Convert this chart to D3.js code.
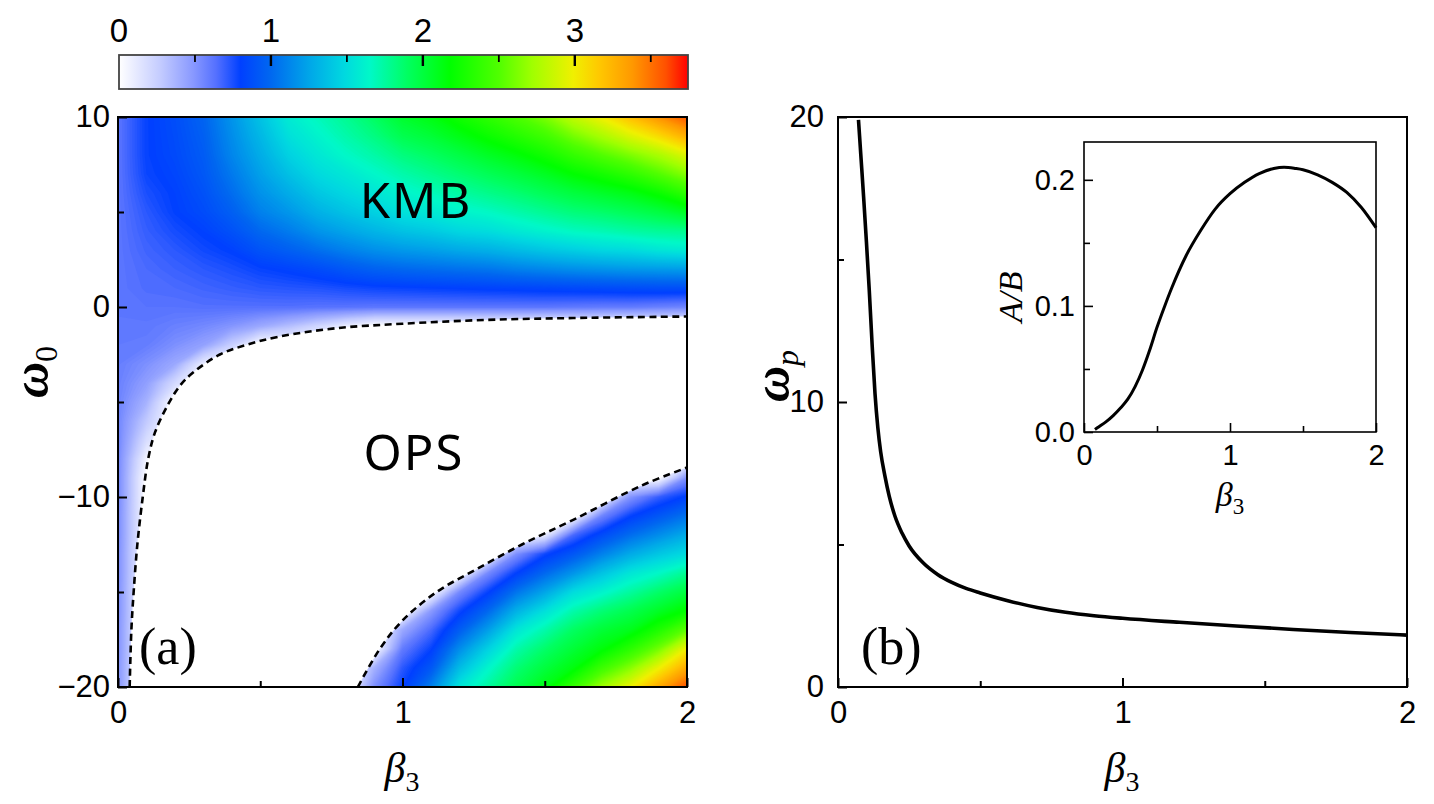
<!DOCTYPE html>
<html>
<head>
<meta charset="utf-8">
<script src="https://cdn.jsdelivr.net/npm/d3@7"></script>
<style>
  body { margin: 0; background: #fff; }
  svg text { font-family: "Liberation Sans", Arial, sans-serif; fill: #000; }
</style>
</head>
<body>
<svg id="chart" width="1434" height="804"></svg>
<script>
// ---- values ----

// panel (a): colour-coded value on a beta3 x omega0 grid (rows from omega0 = 10 down to -20)
var betaGrid = [0, 0.1, 0.2, 0.3, 0.4, 0.5, 0.6, 0.7, 0.8, 0.9, 1.0, 1.1, 1.2, 1.3, 1.4, 1.5, 1.6, 1.7, 1.8, 1.9, 2.0];
var omegaGrid = [10, 9, 8, 7, 6, 5, 4, 3, 2, 1, 0, -1, -2, -3, -4, -5, -6, -7, -8, -9, -10,
                 -11, -12, -13, -14, -15, -16, -17, -18, -19, -20];
var heatRows = [
  [0.62,0.79,0.87,0.98,1.18,1.38,1.58,1.68,1.78,1.90,2.05,2.13,2.25,2.36,2.48,2.62,2.83,3.00,3.20,3.40,3.58],
  [0.62,0.79,0.86,0.96,1.15,1.33,1.52,1.62,1.72,1.82,1.95,2.02,2.12,2.22,2.32,2.43,2.60,2.75,2.92,3.08,3.28],
  [0.62,0.79,0.85,0.94,1.12,1.28,1.45,1.56,1.65,1.73,1.83,1.90,1.98,2.07,2.15,2.25,2.38,2.50,2.62,2.75,2.93],
  [0.62,0.78,0.83,0.92,1.07,1.23,1.37,1.49,1.56,1.64,1.72,1.79,1.86,1.93,2.00,2.08,2.18,2.26,2.36,2.50,2.65],
  [0.62,0.75,0.81,0.89,1.02,1.17,1.28,1.40,1.48,1.55,1.62,1.68,1.74,1.80,1.86,1.93,2.00,2.06,2.12,2.22,2.37],
  [0.62,0.72,0.80,0.86,0.96,1.10,1.19,1.30,1.38,1.45,1.53,1.57,1.62,1.66,1.72,1.78,1.84,1.88,1.93,1.99,2.08],
  [0.62,0.70,0.76,0.81,0.89,1.00,1.08,1.18,1.25,1.32,1.38,1.42,1.48,1.51,1.57,1.62,1.67,1.70,1.74,1.77,1.79],
  [0.62,0.68,0.72,0.77,0.81,0.90,0.96,1.03,1.10,1.16,1.20,1.23,1.27,1.30,1.35,1.40,1.44,1.48,1.50,1.55,1.58],
  [0.62,0.66,0.69,0.72,0.75,0.79,0.82,0.86,0.92,0.97,1.00,1.02,1.04,1.06,1.10,1.13,1.16,1.18,1.20,1.21,1.22],
  [0.62,0.65,0.66,0.68,0.70,0.72,0.73,0.74,0.76,0.78,0.79,0.80,0.81,0.82,0.83,0.84,0.85,0.86,0.87,0.88,0.88],
  [0.62,0.63,0.63,0.64,0.64,0.64,0.64,0.63,0.63,0.62,0.62,0.62,0.62,0.62,0.62,0.62,0.61,0.60,0.60,0.58,0.56],
  [0.61,0.61,0.58,0.55,0.50,0.42,0.33,0.22,0.10,0,0,0,0,0,0,0,0,0,0,0,0],
  [0.60,0.59,0.52,0.45,0.25,0,0,0,0,0,0,0,0,0,0,0,0,0,0,0,0],
  [0.59,0.52,0.42,0.10,0,0,0,0,0,0,0,0,0,0,0,0,0,0,0,0,0],
  [0.58,0.46,0.20,0,0,0,0,0,0,0,0,0,0,0,0,0,0,0,0,0,0],
  [0.57,0.38,0,0,0,0,0,0,0,0,0,0,0,0,0,0,0,0,0,0,0],
  [0.56,0.28,0,0,0,0,0,0,0,0,0,0,0,0,0,0,0,0,0,0,0],
  [0.56,0.18,0,0,0,0,0,0,0,0,0,0,0,0,0,0,0,0,0,0,0],
  [0.55,0.06,0,0,0,0,0,0,0,0,0,0,0,0,0,0,0,0,0,0,0],
  [0.55,0,0,0,0,0,0,0,0,0,0,0,0,0,0,0,0,0,0,0,0.52],
  [0.55,0,0,0,0,0,0,0,0,0,0,0,0,0,0,0,0,0,0.50,0.70,0.82],
  [0.54,0,0,0,0,0,0,0,0,0,0,0,0,0,0,0,0,0.56,0.79,0.92,1.05],
  [0.54,0,0,0,0,0,0,0,0,0,0,0,0,0,0,0.10,0.66,0.86,1.02,1.15,1.28],
  [0.53,0,0,0,0,0,0,0,0,0,0,0,0,0,0.52,0.77,0.92,1.10,1.27,1.40,1.50],
  [0.53,0,0,0,0,0,0,0,0,0,0,0,0,0.54,0.80,1.00,1.18,1.38,1.55,1.65,1.78],
  [0.52,0,0,0,0,0,0,0,0,0,0,0,0.54,0.79,1.05,1.25,1.50,1.62,1.75,1.88,2.00],
  [0.52,0,0,0,0,0,0,0,0,0,0,0.48,0.77,1.00,1.30,1.52,1.72,1.85,1.95,2.07,2.20],
  [0.51,0,0,0,0,0,0,0,0,0,0.42,0.66,0.95,1.22,1.55,1.72,1.90,2.02,2.10,2.30,2.55],
  [0.51,0,0,0,0,0,0,0,0,0,0.60,0.79,1.15,1.45,1.72,1.88,2.02,2.15,2.35,2.60,3.00],
  [0.50,0,0,0,0,0,0,0,0,0.38,0.72,0.92,1.35,1.63,1.85,2.00,2.14,2.42,2.65,2.98,3.30],
  [0.50,0,0,0,0,0,0,0,0,0.52,0.79,1.10,1.55,1.75,1.95,2.12,2.40,2.72,2.98,3.30,3.60]
];

// dashed borders of the OPS region
var upperBeta  = [0.041, 0.047, 0.055, 0.068, 0.087, 0.106, 0.13, 0.177, 0.22, 0.264, 0.358, 0.45, 0.566, 0.765, 1.0, 1.294, 1.6, 2.0];
var upperOmega = [-20, -17, -15, -12.5, -10, -8, -6.6, -5.1, -4.1, -3.45, -2.5, -2.0, -1.56, -1.12, -0.88, -0.68, -0.58, -0.5];
var lowerBeta  = [0.843, 0.92, 1.0, 1.12, 1.26, 1.42, 1.6, 1.84, 2.0];
var lowerOmega = [-20, -18, -16.5, -15, -13.8, -12.5, -11.2, -9.4, -8.45];

// colour bar
var barMax = 3.745;
var barTicks = [0, 1, 2, 3];
var barMinor = [0.5, 1.5, 2.5, 3.5];
var cmapStops  = [0, 0.27, 0.49, 0.64, 0.8, 1.0, 1.26, 1.48, 1.65, 1.9, 2.18, 2.5, 2.72, 2.99, 3.16, 3.38, 3.6, 3.745];
var cmapColors = ["#ffffff", "#c4ccff", "#8898ff", "#5470ff", "#0040ff", "#0068f0", "#00a8e8", "#00d8e0",
                  "#00f8c8", "#00ff60", "#00ff00", "#50ff00", "#a0ff00", "#f0f000", "#ffc800", "#ff9800",
                  "#ff5000", "#ff0000"];

// panel (b): omega_p against beta3
var betaP  = [0.072, 0.08, 0.09, 0.1, 0.11, 0.12, 0.13, 0.14, 0.15, 0.165, 0.18, 0.2, 0.225, 0.25, 0.3,
              0.35, 0.4, 0.45, 0.5, 0.6, 0.7, 0.8, 0.9, 1.0, 1.2, 1.4, 1.6, 1.8, 2.0];
var omegaP = [19.9, 18.7, 17.2, 15.6, 13.9, 12.0, 10.3, 9.1, 8.25, 7.4, 6.7, 6.0, 5.4, 4.95, 4.35,
              3.95, 3.67, 3.46, 3.3, 3.02, 2.79, 2.62, 2.5, 2.41, 2.27, 2.14, 2.02, 1.91, 1.82];

// inset: A/B against beta3
var betaI  = [0.075, 0.1, 0.15, 0.2, 0.25, 0.3, 0.35, 0.4, 0.45, 0.5, 0.55, 0.6, 0.7, 0.8, 0.9, 1.0,
              1.1, 1.2, 1.3, 1.37, 1.45, 1.5, 1.6, 1.7, 1.8, 1.9, 2.0];
var ratioI = [0.002, 0.004, 0.008, 0.013, 0.019, 0.026, 0.036, 0.049, 0.065, 0.083, 0.099, 0.114, 0.14, 0.16,
              0.177, 0.189, 0.198, 0.205, 0.209, 0.210, 0.209, 0.208, 0.204, 0.198, 0.19, 0.178, 0.162];

// ---- drawing ----
var svg = d3.select('#chart');
var defs = svg.append('defs');
var serif = '"Liberation Serif", "Times New Roman", serif';

function styleAxis(g, size, width) {
  g.attr('font-size', null).attr('font-family', null);
  g.selectAll('text').style('font-size', size + 'px');
  g.selectAll('line').attr('stroke', '#000').attr('stroke-width', width);
  g.select('.domain').remove();
}

function frame(x0, y0, x1, y1, w) {
  svg.append('rect').attr('x', x0).attr('y', y0).attr('width', x1 - x0).attr('height', y1 - y0)
    .attr('fill', 'none').attr('stroke', '#000').attr('stroke-width', w);
}

// panel (a)
var xA = d3.scaleLinear().domain([0, 2]).range([118, 687]);
var yA = d3.scaleLinear().domain([-20, 10]).range([687, 117]);
var color = d3.scaleLinear().domain(cmapStops).range(cmapColors).clamp(true);

defs.append('clipPath').attr('id', 'clipA').append('rect')
  .attr('x', xA(0)).attr('y', yA(10)).attr('width', xA(2) - xA(0)).attr('height', yA(-20) - yA(10));

var gA = svg.append('g').attr('clip-path', 'url(#clipA)');
gA.append('rect').attr('x', xA(0)).attr('y', yA(10))
  .attr('width', xA(2) - xA(0)).attr('height', yA(-20) - yA(10)).attr('fill', '#fff');

var nx = betaGrid.length, ny = omegaGrid.length;
var values = [].concat.apply([], heatRows);
var step = 0.015;
var levels = d3.range(step, barMax, step);
var bands = d3.contours().size([nx, ny]).thresholds(levels)(values);
var dB = betaGrid[1] - betaGrid[0], dW = omegaGrid[0] - omegaGrid[1];
var gridProj = d3.geoTransform({
  point: function(px, py) {
    this.stream.point(xA(betaGrid[0] + (px - 0.5) * dB), yA(omegaGrid[0] - (py - 0.5) * dW));
  }
});
var gridPath = d3.geoPath(gridProj);
gA.selectAll('path.band').data(bands).enter().append('path')
  .attr('class', 'band')
  .attr('d', gridPath)
  .attr('fill', function(d) { return color(d.value + step / 2); })
  .attr('stroke', 'none');

var border = d3.line().curve(d3.curveCatmullRom.alpha(0.5))
  .x(function(d) { return xA(d[0]); }).y(function(d) { return yA(d[1]); });
var upper = upperBeta.map(function(b, i) { return [b, upperOmega[i]]; });
var lower = lowerBeta.map(function(b, i) { return [b, lowerOmega[i]]; });
var opsArea = border(upper) + 'L' + border(lower.slice().reverse()).slice(1) + 'Z';
gA.append('path').attr('d', opsArea).attr('fill', '#fff');
[upper, lower].forEach(function(pts) {
  gA.append('path').attr('d', border(pts)).attr('fill', 'none')
    .attr('stroke', '#000').attr('stroke-width', 2.6).attr('stroke-dasharray', '7,4.5');
});

var axA = svg.append('g').attr('transform', 'translate(0,' + yA(-20) + ')')
  .call(d3.axisBottom(xA).tickValues([0, 1, 2]).tickFormat(d3.format('d'))
    .tickSizeInner(-9).tickSizeOuter(0).tickPadding(14));
styleAxis(axA, 31, 2);
var axAm = svg.append('g').attr('transform', 'translate(0,' + yA(-20) + ')')
  .call(d3.axisBottom(xA).tickValues([0.5, 1.5]).tickFormat('').tickSizeInner(-6).tickSizeOuter(0));
styleAxis(axAm, 31, 2);
var ayA = svg.append('g').attr('transform', 'translate(' + xA(0) + ',0)')
  .call(d3.axisLeft(yA).tickValues([-20, -10, 0, 10]).tickFormat(d3.format('d'))
    .tickSizeInner(-9).tickSizeOuter(0).tickPadding(8));
styleAxis(ayA, 31, 2);
var ayAm = svg.append('g').attr('transform', 'translate(' + xA(0) + ',0)')
  .call(d3.axisLeft(yA).tickValues([-15, -5, 5]).tickFormat('').tickSizeInner(-6).tickSizeOuter(0));
styleAxis(ayAm, 31, 2);
frame(xA(0), yA(10), xA(2), yA(-20), 2);

svg.append('text').attr('x', 416).attr('y', 218).attr('text-anchor', 'middle')
  .style('font-family', '"Noto Sans", "Open Sans", sans-serif').style('font-size', '49px')
  .style('letter-spacing', '2px').text('KMB');
svg.append('text').attr('x', 414).attr('y', 470).attr('text-anchor', 'middle')
  .style('font-family', '"Noto Sans", "Open Sans", sans-serif').style('font-size', '49px')
  .style('letter-spacing', '2px').text('OPS');
svg.append('text').attr('x', 139).attr('y', 664)
  .style('font-family', serif).style('font-size', '52px').text('(a)');

// colour bar
var xC = d3.scaleLinear().domain([0, barMax]).range([119, 688]);
var grad = defs.append('linearGradient').attr('id', 'barGrad')
  .attr('x1', '0%').attr('x2', '100%').attr('y1', '0%').attr('y2', '0%');
cmapStops.forEach(function(v, i) {
  grad.append('stop').attr('offset', (v / barMax * 100) + '%').attr('stop-color', cmapColors[i]);
});
svg.append('rect').attr('x', xC(0)).attr('y', 55).attr('width', xC(barMax) - xC(0)).attr('height', 34)
  .attr('fill', 'url(#barGrad)').attr('stroke', '#444').attr('stroke-width', 1.8);
svg.selectAll('line.cmaj').data(barTicks.filter(function(t) { return t > 0; })).enter().append('line')
  .attr('x1', xC).attr('x2', xC).attr('y1', 55).attr('y2', 66)
  .attr('stroke', '#000').attr('stroke-width', 2.4);
svg.selectAll('line.cmin').data(barMinor).enter().append('line')
  .attr('x1', xC).attr('x2', xC).attr('y1', 55).attr('y2', 62)
  .attr('stroke', '#000').attr('stroke-width', 1.8);
svg.selectAll('text.clab').data(barTicks).enter().append('text')
  .attr('x', xC).attr('y', 42).attr('text-anchor', 'middle')
  .style('font-size', '33px').text(function(d) { return d; });

// axis titles of (a)
svg.append('text').attr('x', 402).attr('y', 782).attr('text-anchor', 'middle')
  .style('font-family', serif).style('font-style', 'italic').style('font-size', '42px')
  .html('β<tspan dy="9" style="font-size:28px;font-style:normal">3</tspan>');
svg.append('text').attr('transform', 'translate(48,372) rotate(-90)').attr('text-anchor', 'middle')
  .style('font-family', serif)
  .html('<tspan style="font-size:50px;font-style:italic;font-weight:bold">ω</tspan>' +
        '<tspan dy="9" style="font-size:32px">0</tspan>');

// panel (b)
var xB = d3.scaleLinear().domain([0, 2]).range([838, 1407]);
var yB = d3.scaleLinear().domain([0, 20]).range([687, 117]);

var axB = svg.append('g').attr('transform', 'translate(0,' + yB(0) + ')')
  .call(d3.axisBottom(xB).tickValues([0, 1, 2]).tickFormat(d3.format('d'))
    .tickSizeInner(-9).tickSizeOuter(0).tickPadding(14));
styleAxis(axB, 31, 2);
var axBm = svg.append('g').attr('transform', 'translate(0,' + yB(0) + ')')
  .call(d3.axisBottom(xB).tickValues([0.5, 1.5]).tickFormat('').tickSizeInner(-6).tickSizeOuter(0));
styleAxis(axBm, 31, 2);
var ayB = svg.append('g').attr('transform', 'translate(' + xB(0) + ',0)')
  .call(d3.axisLeft(yB).tickValues([0, 10, 20]).tickFormat(d3.format('d'))
    .tickSizeInner(-9).tickSizeOuter(0).tickPadding(14));
styleAxis(ayB, 31, 2);
var ayBm = svg.append('g').attr('transform', 'translate(' + xB(0) + ',0)')
  .call(d3.axisLeft(yB).tickValues([5, 15]).tickFormat('').tickSizeInner(-6).tickSizeOuter(0));
styleAxis(ayBm, 31, 2);
frame(xB(0), yB(20), xB(2), yB(0), 2);

var lineB = d3.line().curve(d3.curveMonotoneX)
  .x(function(d) { return xB(d[0]); }).y(function(d) { return yB(d[1]); });
svg.append('path').datum(betaP.map(function(b, i) { return [b, omegaP[i]]; }))
  .attr('d', lineB).attr('fill', 'none').attr('stroke', '#000').attr('stroke-width', 3.6);

svg.append('text').attr('x', 861).attr('y', 664)
  .style('font-family', serif).style('font-size', '52px').text('(b)');
svg.append('text').attr('x', 1122).attr('y', 782).attr('text-anchor', 'middle')
  .style('font-family', serif).style('font-style', 'italic').style('font-size', '42px')
  .html('β<tspan dy="9" style="font-size:28px;font-style:normal">3</tspan>');
svg.append('text').attr('transform', 'translate(789,376) rotate(-90)').attr('text-anchor', 'middle')
  .style('font-family', serif)
  .html('<tspan style="font-size:50px;font-style:italic;font-weight:bold">ω</tspan>' +
        '<tspan dy="9" style="font-size:32px;font-style:italic">p</tspan>');

// inset
var xI = d3.scaleLinear().domain([0, 2]).range([1084, 1376]);
var yI = d3.scaleLinear().domain([0, 0.23]).range([432, 142]);

var axI = svg.append('g').attr('transform', 'translate(0,' + yI(0) + ')')
  .call(d3.axisBottom(xI).tickValues([0, 1, 2]).tickFormat(d3.format('d'))
    .tickSizeInner(-9).tickSizeOuter(0).tickPadding(12));
styleAxis(axI, 29, 1.6);
var axIm = svg.append('g').attr('transform', 'translate(0,' + yI(0) + ')')
  .call(d3.axisBottom(xI).tickValues([0.5, 1.5]).tickFormat('').tickSizeInner(-6).tickSizeOuter(0));
styleAxis(axIm, 29, 1.6);
var ayI = svg.append('g').attr('transform', 'translate(' + xI(0) + ',0)')
  .call(d3.axisLeft(yI).tickValues([0, 0.1, 0.2]).tickFormat(d3.format('.1f'))
    .tickSizeInner(-9).tickSizeOuter(0).tickPadding(9));
styleAxis(ayI, 29, 1.6);
var ayIm = svg.append('g').attr('transform', 'translate(' + xI(0) + ',0)')
  .call(d3.axisLeft(yI).tickValues([0.05, 0.15]).tickFormat('').tickSizeInner(-6).tickSizeOuter(0));
styleAxis(ayIm, 29, 1.6);
frame(xI(0), yI(0.23), xI(2), yI(0), 1.6);

var lineI = d3.line().curve(d3.curveMonotoneX)
  .x(function(d) { return xI(d[0]); }).y(function(d) { return yI(d[1]); });
svg.append('path').datum(betaI.map(function(b, i) { return [b, ratioI[i]]; }))
  .attr('d', lineI).attr('fill', 'none').attr('stroke', '#000').attr('stroke-width', 3);

svg.append('text').attr('x', 1230).attr('y', 506).attr('text-anchor', 'middle')
  .style('font-family', serif).style('font-style', 'italic').style('font-size', '34px')
  .html('β<tspan dy="8" style="font-size:23px;font-style:normal">3</tspan>');
svg.append('text').attr('transform', 'translate(1022,297) rotate(-90)').attr('text-anchor', 'middle')
  .style('font-family', serif).style('font-style', 'italic').style('font-size', '34px')
  .text('A/B');
</script>
</body>
</html>
